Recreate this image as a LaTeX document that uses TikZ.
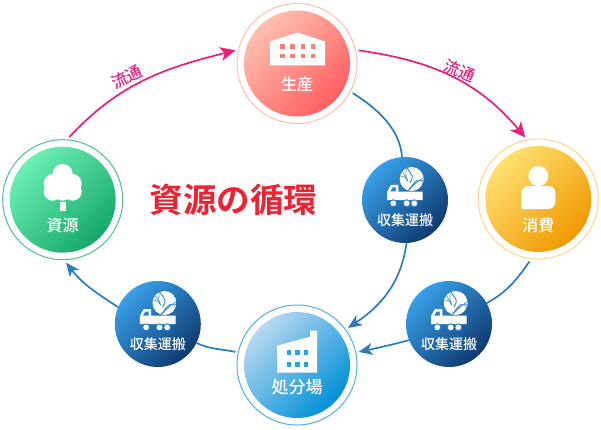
\documentclass[tikz,border=0pt]{standalone}
\usepackage{fontspec}
\setmainfont[BoldFont=* Bold]{Noto Sans CJK JP}
\newfontfamily\medfont{Noto Sans CJK JP Medium}
\usetikzlibrary{arrows.meta}
\definecolor{flowpink}{HTML}{E91E7D}
\definecolor{haulblue}{HTML}{2B7DC0}
\definecolor{titlered}{HTML}{EE2233}
\definecolor{haulA}{HTML}{38A0E8}
\definecolor{haulB}{HTML}{0F3A70}
\definecolor{prodA}{HTML}{FFBFAE}
\definecolor{prodB}{HTML}{FF5F62}
\definecolor{consA}{HTML}{FFE070}
\definecolor{consB}{HTML}{F09800}
\definecolor{origA}{HTML}{6CF0B4}
\definecolor{origB}{HTML}{14A868}
\definecolor{dumpA}{HTML}{B8D8F0}
\definecolor{dumpB}{HTML}{0090D8}
\tikzstyle{ring}=[circle,draw,line width=1pt,minimum size=120pt,inner sep=0pt,outer sep=3pt]
\tikzstyle{disc}=[circle,minimum size=106pt,inner sep=0pt]
\tikzstyle{prod disc}=[disc,top color=prodA,bottom color=prodB,shading angle=45]
\tikzstyle{cons disc}=[disc,top color=consA,bottom color=consB,shading angle=45]
\tikzstyle{orig disc}=[disc,top color=origA,bottom color=origB,shading angle=45]
\tikzstyle{dump disc}=[disc,top color=dumpA,bottom color=dumpB,shading angle=45]
\tikzstyle{haul disc}=[circle,minimum size=86pt,inner sep=0pt,top color=haulA,bottom color=haulB,shading angle=45]
\tikzstyle{caption}=[text=white,inner sep=0pt,font=\medfont\fontsize{16}{16}\selectfont]
\tikzstyle{haul caption}=[caption,font=\medfont\fontsize{14}{14}\selectfont]
\tikzstyle{flow text}=[text=flowpink,inner sep=0pt,font=\medfont\fontsize{16}{16}\selectfont]
\tikzstyle{flow}=[draw=flowpink,line width=1.7pt,-{Stealth[length=15pt,width=14pt,inset=4pt]}]
\tikzstyle{haul}=[draw=haulblue,line width=1.7pt]
\tikzstyle{haul arrow}=[haul,-{Stealth[length=14pt,width=12pt,inset=4pt]}]
\tikzstyle{stripe}=[draw=haulA!75!haulB,line width=.55pt]
\begin{document}
\begin{tikzpicture}[x=1pt,y=-1pt]
    \useasboundingbox (0,0) rectangle (601,430);
    % First the four big circles
    \node[ring,draw=prodA] (prod) at (297,63.5) {};
    \node[ring,draw=consA!60!orange!60] (cons) at (538.3,199) {};
    \node[ring,draw=origB!75] (orig) at (62.7,199.7) {};
    \node[ring,draw=dumpB!70] (dump) at (297,365) {};
    \node[prod disc] (prod disc) at (prod) {};
    \node[cons disc] (cons disc) at (cons) {};
    \node[orig disc] (orig disc) at (orig) {};
    \node[dump disc] (dump disc) at (dump) {};

    % The three small circles with the truck
    \foreach \pos/\name in {{(405,200)/haulA}, {(449,324)/haulB}, {(157.8,324)/haulC}}
    {
        \node[haul disc] (\name) at \pos {};
        \begin{scope}[shift={(\name)}]
            \node[haul caption] (\name text) at (0,20) {収集運搬};
            % globe
            \begin{scope}
                \clip (6.7,-21) circle (12);
                \fill[white] (6.7,-21) circle (12);
                \begin{scope}[shift={(6.7,-21)}]
                    \foreach \a/\b in {-8/-4, 10/-6, 28/-8}
                        \path[stripe] (-3,11) .. controls (3,\b+10) and (8,\b+4) .. (\a:13);
                    \foreach \a in {-165,-140,-115}
                        \path[stripe] (-4,2) .. controls (-6,-2) .. (\a:13);
                    \path[stripe,line width=.9pt] (-2,4) .. controls (2,-2) .. (65:-13);
                \end{scope}
            \end{scope}
            % truck
            \fill[white,even odd rule] (-18,0) -- (-18,-8) -- (-14,-15) -- (-6.7,-15) -- (-6.7,-8.3) -- (17.7,-8.3) -- (17.7,0) -- cycle
                (-15,-8.5) -- (-12.5,-12.5) -- (-9.2,-12.5) -- (-9.2,-8.5) -- cycle;
            \foreach \wx in {-11.7,1.7,9.3}
                \draw[fill=white,draw=haulA!70!haulB,line width=1pt] (\wx,3.3) circle (3.5);
        \end{scope}
    }

    % Factory roof
    \begin{scope}[shift={(prod)}]
        \fill[white] (-27,-22) -- (0.7,-31) -- (28,-22) -- (28,2) -- (-27,2) -- cycle;
        \foreach \wx in {-14.3,-4.3,6,16}
            \foreach \wy in {-17,-7.3}
                \fill[prodB!70!prodA] (\wx-2.3,\wy-2.3) rectangle (\wx+2.3,\wy+2.3);
        \node[caption] (prod text) at (0,20.5) {生産};
    \end{scope}

    % Person
    \begin{scope}[shift={(cons)}]
        \fill[white] (0,-23) circle (10);
        \fill[white,rounded corners=7pt] (-17,10) -- (-17,-13) -- (17,-13) -- (17,10) [sharp corners] -- cycle;
        \node[caption] (cons text) at (0,26.5) {消費};
    \end{scope}

    % Tree
    \begin{scope}[shift={(orig)}]
        \fill[white] (0,-25.7) circle (10) (-9,-16) circle (10) (9,-16) circle (10)
            (-10,-8) circle (9) (10,-8) circle (9) (0,-8) circle (9);
        \fill[white] (-3.2,2) rectangle (3,11);
        \node[caption] (orig text) at (0,26) {資源};
    \end{scope}

    % Factory with chimney
    \begin{scope}[shift={(dump)}]
        \fill[white] (-20,-19.3) -- (13,-28.3) -- (13,-34.3) -- (20,-34.3) -- (20,7.7) -- (-20,7.7) -- cycle;
        \foreach \wx in {-7.8,0.3,8.7}
            \foreach \wy in {-12.7,-1}
                \fill[dumpB!75!dumpA] (\wx-2.2,\wy-2.5) rectangle (\wx+2.2,\wy+2.5);
        \node[caption,font=\medfont\fontsize{17}{17}\selectfont] (dump text) at (0,22.5) {処分場};
    \end{scope}

    % Connect the circles
    \path[flow] (orig.84) to[out=47,in=194] (prod.168);
    \path[flow] (prod.12) to[out=-8,in=130] (cons.102);
    \path[haul] (prod.-28) to[out=-32,in=94,looseness=.9] (haulA.94);
    \path[haul arrow] (haulA.-88) to[out=-98,in=34] (dump.36);
    \path[haul] (cons.-98) to[out=-125,in=29] (haulB.29);
    \path[haul arrow] (haulB.202) to[out=195,in=12] (dump.12);
    \path[haul] (dump.168) to[out=168,in=-26] (haulC.-26);
    \path[haul arrow] (haulC.157) to[out=147,in=-52] (orig.-87);

    \node[flow text,rotate=27] (flow left) at (126.7,76.7) {流通};
    \node[flow text,rotate=-22] (flow right) at (460,71) {流通};
    \node[text=titlered,inner sep=0pt,font=\bfseries\fontsize{33.5}{34}\selectfont] (title) at (233.5,200) {資源の循環};
\end{tikzpicture}
\end{document}
